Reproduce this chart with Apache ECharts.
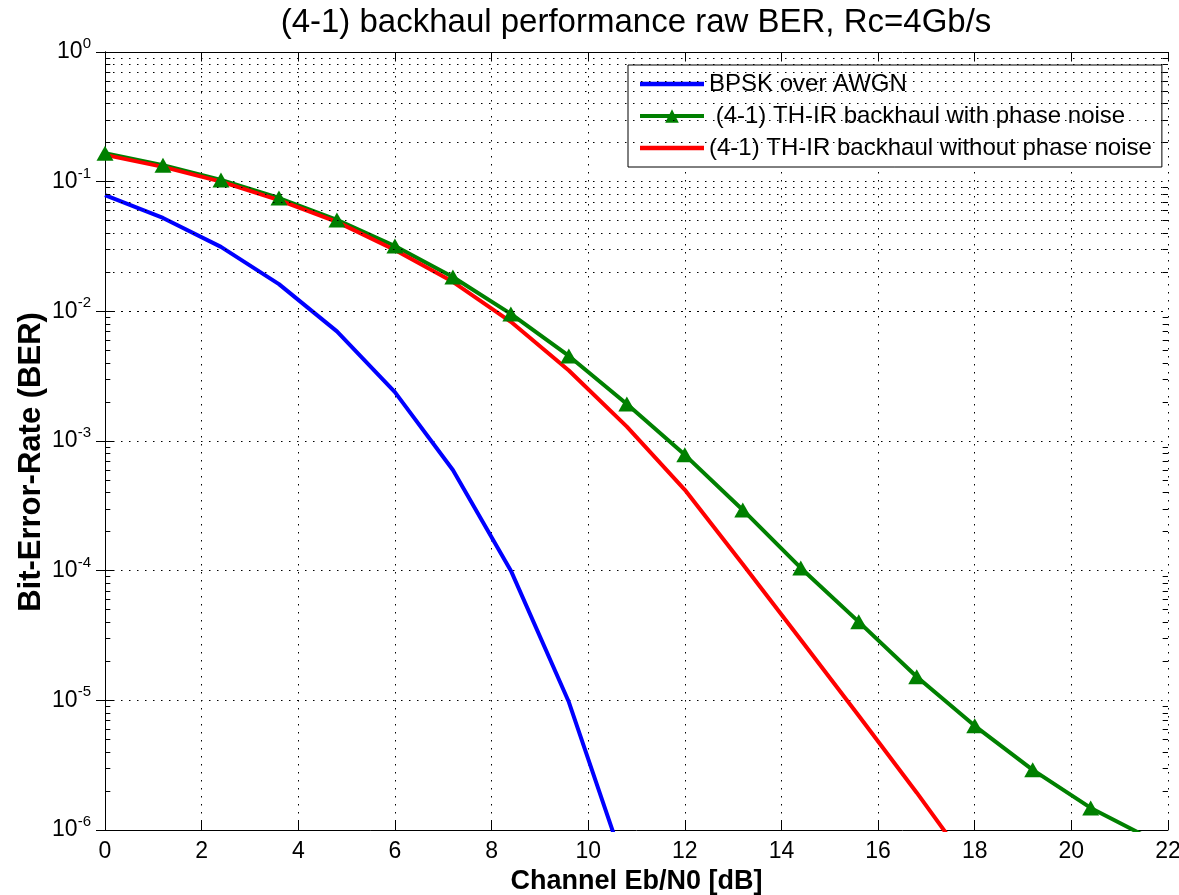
<!DOCTYPE html>
<html>
<head>
<meta charset="utf-8">
<script src="https://cdn.jsdelivr.net/npm/echarts@6/dist/echarts.min.js"></script>
<style>
  html, body { margin: 0; padding: 0; background: #fff; }
  #chart { width: 1179px; height: 895px; }
</style>
</head>
<body>
<div id="chart"></div>
<script>
const FONT = '"Liberation Sans", Arial, Helvetica, sans-serif';

// BPSK over AWGN
const ebn0Bpsk = [0, 1.2, 2.4, 3.6, 4.8, 6.0, 7.2, 8.4, 9.6, 10.8];
const berBpsk = [0.0787, 0.0525, 0.0314, 0.0162, 0.0070, 0.00238, 5.98e-4, 1.0e-4, 9.7e-6, 4.7e-7];

// TH-IR backhaul with phase noise (markers every 1.2 dB)
const ebn0WithPn = [0, 1.2, 2.4, 3.6, 4.8, 6.0, 7.2, 8.4, 9.6, 10.8, 12.0, 13.2, 14.4, 15.6, 16.8, 18.0, 19.2, 20.4, 21.6];
const berWithPn = [0.166, 0.134, 0.103, 0.0748, 0.0507, 0.0319, 0.0184, 0.00955, 0.00453, 0.00193,
  7.82e-4, 2.94e-4, 1.05e-4, 4.03e-5, 1.52e-5, 6.36e-6, 2.91e-6, 1.48e-6, 8.7e-7];

// TH-IR backhaul without phase noise
const ebn0NoPn = [0, 1.2, 2.4, 3.6, 4.8, 6.0, 7.2, 8.4, 9.6, 10.8, 12.0, 13.2, 14.4, 15.6, 16.8, 18.0];
const berNoPn = [0.161, 0.130, 0.100, 0.072, 0.049, 0.0297, 0.0169, 0.0083, 0.0035, 0.00129,
  4.2e-4, 1.12e-4, 2.93e-5, 7.6e-6, 1.94e-6, 4.7e-7];

const seriesNames = ['BPSK over AWGN', ' (4-1) TH-IR backhaul with phase noise', '(4-1) TH-IR backhaul without phase noise'];
const seriesColors = ['#0000ff', '#008000', '#ff0000'];

// log grid helpers: decades and minor mantissas
const decades = [-6, -5, -4, -3, -2, -1];
const mantissas = [2, 3, 4, 5, 6, 7, 8, 9];

const pairs = (xs, ys) => xs.map((x, i) => [x, ys[i]]);

const minorValues = [];
decades.forEach(d => mantissas.forEach(m => minorValues.push(m * Math.pow(10, d))));

const gridDots = { color: '#000', width: 1, type: [1.5, 6.5] };

const minorGrid = minorValues.map(v => ({ yAxis: v }));
const minorTicks = [];
minorValues.forEach(v => {
  minorTicks.push([{ coord: [0, v] }, { coord: [0.11, v] }]);
  minorTicks.push([{ coord: [21.89, v] }, { coord: [22, v] }]);
});

const lineIcon = 'path://M0 0H64V4.5H0Z';

const chart = echarts.init(document.getElementById('chart'), null, { renderer: 'canvas' });

const baseX = {
  type: 'value', min: 0, max: 22, interval: 2,
  axisLine: { show: true, onZero: false, lineStyle: { color: '#000', width: 1 } },
  axisTick: { show: true, inside: true, length: 9, lineStyle: { color: '#000' } },
};
const baseY = {
  type: 'log', logBase: 10, min: 1e-6, max: 1, splitNumber: 6,
  axisLine: { show: true, lineStyle: { color: '#000', width: 1 } },
  axisTick: { show: true, inside: true, length: 9, lineStyle: { color: '#000' } },
};

const option = {
  animation: false,
  backgroundColor: '#fff',
  title: {
    text: '(4-1) backhaul performance raw BER, Rc=4Gb/s',
    left: 631, top: 1, textAlign: 'center',
    textStyle: { fontFamily: FONT, fontSize: 33, fontWeight: 'normal', color: '#000' }
  },
  // y axis title, placed by hand like the MATLAB ylabel
  graphic: [{
    type: 'text', x: 31, y: 462, rotation: Math.PI / 2, silent: true,
    style: {
      text: 'Bit-Error-Rate (BER)', fill: '#000',
      font: 'bold 31px ' + FONT,
      align: 'center', verticalAlign: 'middle'
    }
  }],
  grid: { left: 105, right: 11, top: 52, bottom: 65, containLabel: false, outerBoundsMode: 'none' },
  legend: {
    data: [
      { name: seriesNames[0], icon: lineIcon, itemStyle: { color: seriesColors[0] } },
      { name: seriesNames[1], lineStyle: { width: 4 } },
      { name: seriesNames[2], icon: lineIcon, itemStyle: { color: seriesColors[2] } }
    ],
    orient: 'vertical',
    left: 628, top: 65,
    backgroundColor: '#fff',
    borderColor: '#000', borderWidth: 1, borderRadius: 0,
    padding: [6, 10, 6, 10],
    itemGap: 6, itemWidth: 64, itemHeight: 17,
    textStyle: { fontFamily: FONT, fontSize: 24, color: '#000', lineHeight: 26 }
  },
  xAxis: [
    Object.assign({}, baseX, {
      position: 'bottom',
      axisLabel: { fontFamily: FONT, fontSize: 23, color: '#000', margin: 10 },
      splitLine: { show: true, lineStyle: gridDots },
      name: 'Channel Eb/N0 [dB]', nameLocation: 'middle', nameGap: 38,
      nameTextStyle: { fontFamily: FONT, fontSize: 27, fontWeight: 'bold', color: '#000' }
    }),
    Object.assign({}, baseX, {
      position: 'top',
      axisLabel: { show: false },
      splitLine: { show: false }
    })
  ],
  yAxis: [
    Object.assign({}, baseY, {
      position: 'left',
      axisLabel: {
        margin: 14,
        formatter: v => '{b|10}{e|' + Math.round(Math.log10(v)) + '}',
        rich: {
          b: { fontFamily: FONT, fontSize: 23, color: '#000' },
          e: { fontFamily: FONT, fontSize: 15, color: '#000', padding: [0, 0, 16, 0] }
        }
      },
      splitLine: { show: true, lineStyle: gridDots }
    }),
    Object.assign({}, baseY, {
      position: 'right',
      axisLabel: { show: false },
      splitLine: { show: false }
    })
  ],
  series: [
    {
      name: 'grid-helper', type: 'line', data: [], silent: true,
      markLine: {
        silent: true, symbol: ['none', 'none'], animation: false,
        label: { show: false }, emphasis: { disabled: true },
        lineStyle: gridDots,
        data: minorGrid
      }
    },
    {
      name: 'tick-helper', type: 'line', data: [], silent: true,
      markLine: {
        silent: true, symbol: ['none', 'none'], animation: false,
        label: { show: false }, emphasis: { disabled: true },
        lineStyle: { color: '#000', width: 1, type: 'solid' },
        data: minorTicks
      }
    },
    {
      name: seriesNames[0], type: 'line', data: pairs(ebn0Bpsk, berBpsk),
      symbol: 'none', clip: true,
      lineStyle: { color: seriesColors[0], width: 4 }, itemStyle: { color: seriesColors[0] },
      emphasis: { disabled: true }
    },
    {
      name: seriesNames[1], type: 'line', data: pairs(ebn0WithPn, berWithPn),
      symbol: 'triangle', symbolSize: [17, 15], clip: true,
      lineStyle: { color: seriesColors[1], width: 4 }, itemStyle: { color: seriesColors[1] },
      emphasis: { disabled: true }
    },
    {
      name: seriesNames[2], type: 'line', data: pairs(ebn0NoPn, berNoPn),
      symbol: 'none', clip: true,
      lineStyle: { color: seriesColors[2], width: 4 }, itemStyle: { color: seriesColors[2] },
      emphasis: { disabled: true }
    }
  ]
};

chart.setOption(option);
</script>
</body>
</html>
